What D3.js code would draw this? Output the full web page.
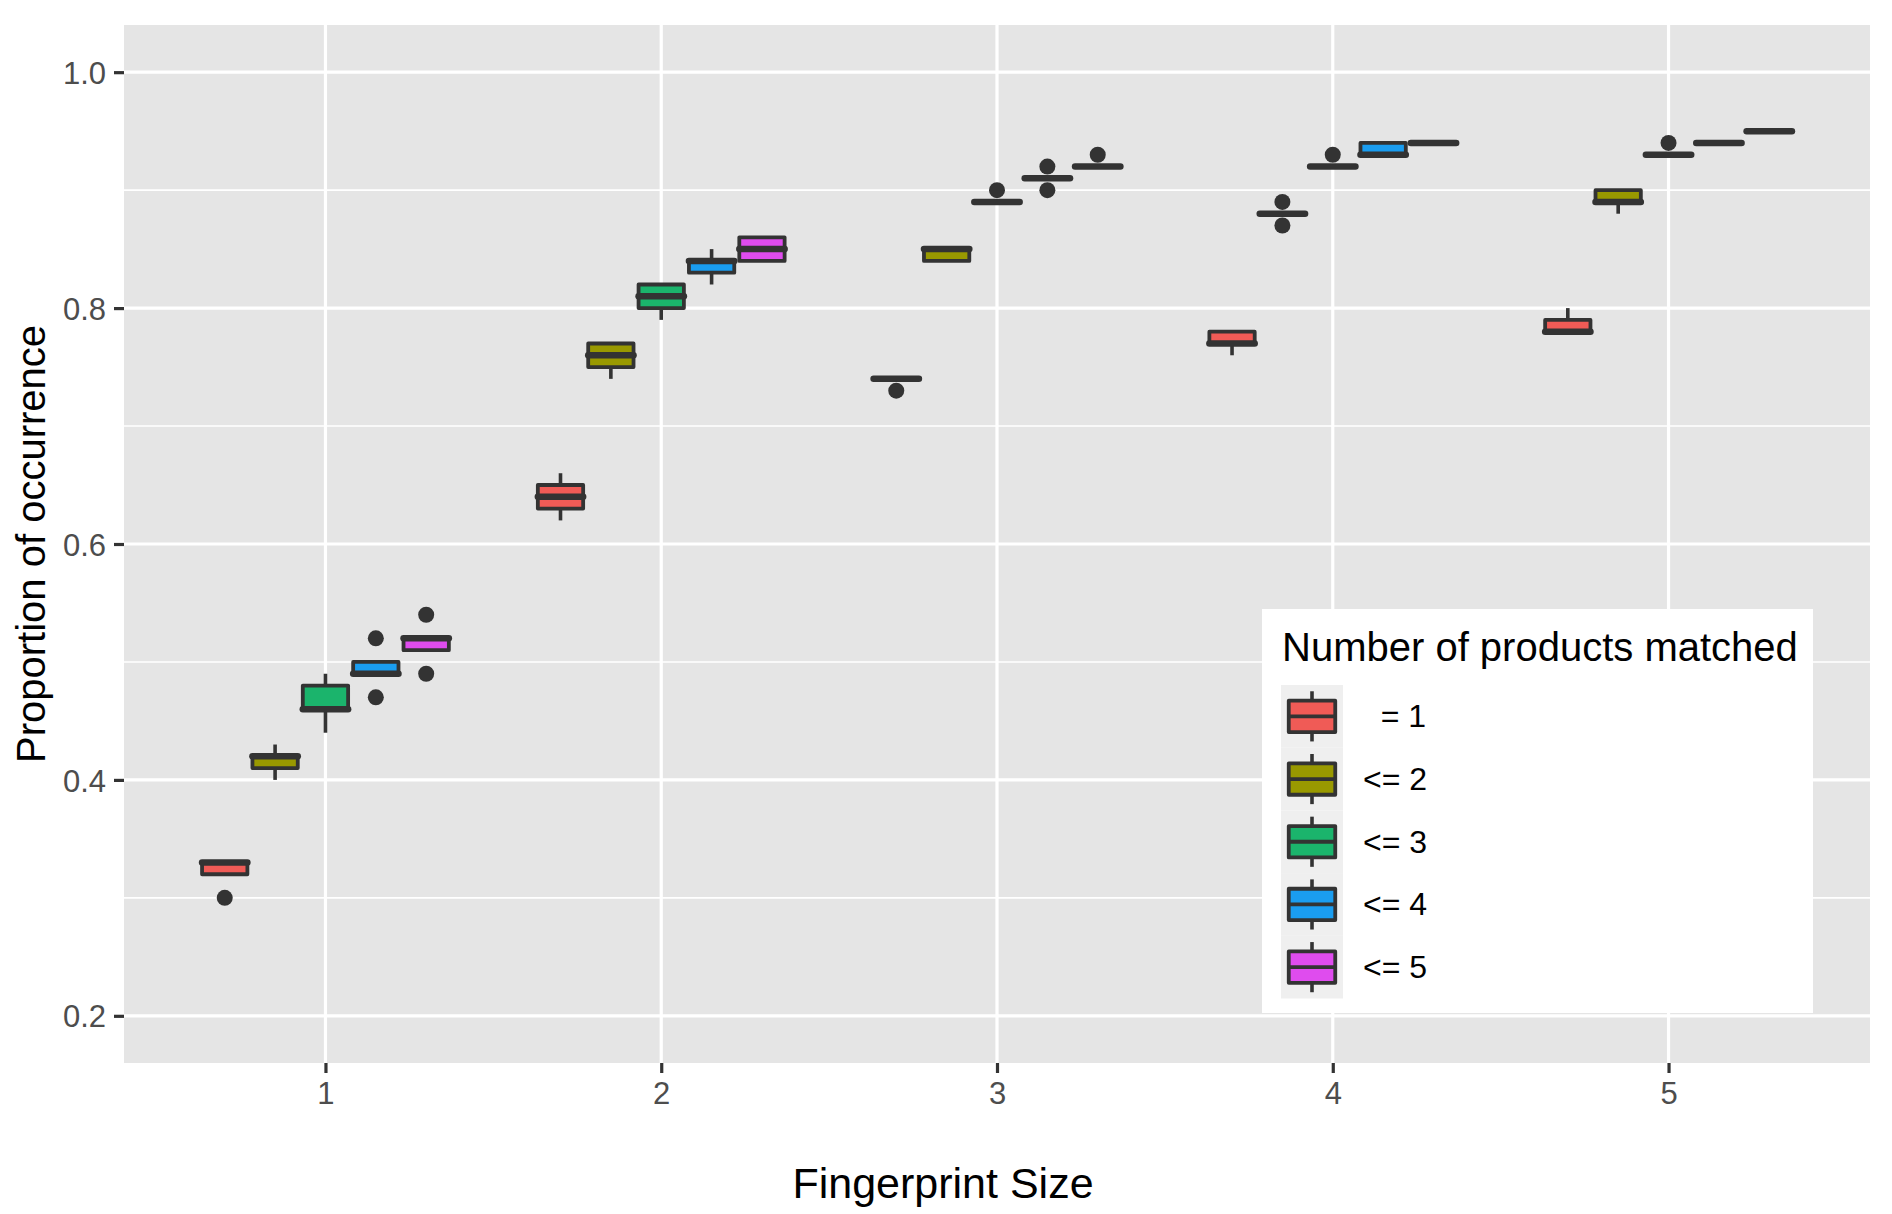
<!DOCTYPE html>
<html>
<head>
<meta charset="utf-8">
<script src="https://cdn.jsdelivr.net/npm/d3@7"></script>
<style>
  body { margin: 0; background: #fff; }
  svg { display: block; font-family: "Liberation Sans", Arial, Helvetica, sans-serif; }
</style>
</head>
<body>
<svg id="chart" width="1892" height="1214"></svg>
<script>
const sizes = [1, 2, 3, 4, 5]
const groups = ["  = 1", "<= 2", "<= 3", "<= 4", "<= 5"]
const groupColors = ["#F05B56", "#999900", "#1BB46C", "#1A9DF0", "#DF4CEE"]
const yTicks = [0.2, 0.4, 0.6, 0.8, 1.0]
const yMinor = [0.3, 0.5, 0.7, 0.9]

// rows = fingerprint size, columns = group
const whiskerLow = [
  [0.32, 0.40, 0.44, 0.49, 0.51],
  [0.62, 0.74, 0.79, 0.82, 0.84],
  [0.74, 0.84, 0.89, 0.91, 0.92],
  [0.76, 0.88, 0.92, 0.93, 0.94],
  [0.78, 0.88, 0.93, 0.94, 0.95]
]
const q1 = [
  [0.32, 0.41, 0.46, 0.49, 0.51],
  [0.63, 0.75, 0.80, 0.83, 0.84],
  [0.74, 0.84, 0.89, 0.91, 0.92],
  [0.77, 0.88, 0.92, 0.93, 0.94],
  [0.78, 0.89, 0.93, 0.94, 0.95]
]
const median = [
  [0.33, 0.42, 0.46, 0.49, 0.52],
  [0.64, 0.76, 0.81, 0.84, 0.85],
  [0.74, 0.85, 0.89, 0.91, 0.92],
  [0.77, 0.88, 0.92, 0.93, 0.94],
  [0.78, 0.89, 0.93, 0.94, 0.95]
]
const q3 = [
  [0.33, 0.42, 0.48, 0.50, 0.52],
  [0.65, 0.77, 0.82, 0.84, 0.86],
  [0.74, 0.85, 0.89, 0.91, 0.92],
  [0.78, 0.88, 0.92, 0.94, 0.94],
  [0.79, 0.90, 0.93, 0.94, 0.95]
]
const whiskerHigh = [
  [0.33, 0.43, 0.49, 0.50, 0.52],
  [0.66, 0.77, 0.82, 0.85, 0.86],
  [0.74, 0.85, 0.89, 0.91, 0.92],
  [0.78, 0.88, 0.92, 0.94, 0.94],
  [0.80, 0.90, 0.93, 0.94, 0.95]
]
const outliers = [
  [[0.30], [], [], [0.47, 0.52], [0.49, 0.54]],
  [[], [], [], [], []],
  [[0.73], [], [0.90], [0.90, 0.92], [0.93]],
  [[], [0.87, 0.89], [0.93], [], []],
  [[], [], [0.94], [], []]
]

const boxes = sizes.flatMap((s, i) => groups.map((g, j) => ({
  size: s, group: g, color: groupColors[j],
  lo: whiskerLow[i][j], q1: q1[i][j], med: median[i][j],
  q3: q3[i][j], hi: whiskerHigh[i][j], out: outliers[i][j]
})))

const svg = d3.select("#chart")
const panel = { left: 124, right: 1870, top: 25, bottom: 1063 }
const ink = "#333333"

const x = d3.scalePoint().domain(sizes).range([panel.left, panel.right]).padding(0.6)
const dodge = d3.scaleBand().domain(groups).range([-0.375 * x.step(), 0.375 * x.step()])
const y = d3.scaleLinear().domain([0.16, 1.04]).range([panel.bottom, panel.top])
const color = d3.scaleOrdinal().domain(groups).range(groupColors)

const boxW = dodge.bandwidth() * 0.9
const cx = d => x(d.size) + dodge(d.group) + dodge.bandwidth() / 2

// panel and grid
svg.append("rect")
  .attr("x", panel.left).attr("y", panel.top)
  .attr("width", panel.right - panel.left).attr("height", panel.bottom - panel.top)
  .attr("fill", "#E5E5E5")

svg.append("g").selectAll("line")
  .data(yMinor).enter().append("line")
  .attr("x1", panel.left).attr("x2", panel.right)
  .attr("y1", d => y(d)).attr("y2", d => y(d))
  .attr("stroke", "#fff").attr("stroke-width", 1.6)

svg.append("g").selectAll("line")
  .data(yTicks).enter().append("line")
  .attr("x1", panel.left).attr("x2", panel.right)
  .attr("y1", d => y(d)).attr("y2", d => y(d))
  .attr("stroke", "#fff").attr("stroke-width", 3.2)

svg.append("g").selectAll("line")
  .data(sizes).enter().append("line")
  .attr("x1", d => x(d)).attr("x2", d => x(d))
  .attr("y1", panel.top).attr("y2", panel.bottom)
  .attr("stroke", "#fff").attr("stroke-width", 3.2)

// axes
const xAxis = svg.append("g")
  .attr("transform", "translate(0," + panel.bottom + ")")
  .call(d3.axisBottom(x).tickSize(10).tickPadding(9))
const yAxis = svg.append("g")
  .attr("transform", "translate(" + panel.left + ",0)")
  .call(d3.axisLeft(y).tickValues(yTicks).tickFormat(d3.format(".1f")).tickSize(10).tickPadding(8))

svg.selectAll(".domain").remove()
svg.selectAll(".tick line").attr("stroke", ink).attr("stroke-width", 3.2)
svg.selectAll(".tick text")
  .attr("fill", "#4D4D4D")
  .style("font-size", "31px")
  .style("font-family", "'Liberation Sans', Arial, sans-serif")
yAxis.selectAll(".tick text").attr("dy", "0.36em")

// boxplots
const boxG = svg.append("g").selectAll("g")
  .data(boxes).enter().append("g")

boxG.selectAll("circle")
  .data(d => d.out.map(v => ({ v: v, d: d }))).enter().append("circle")
  .attr("cx", o => cx(o.d)).attr("cy", o => y(o.v)).attr("r", 8)
  .attr("fill", ink)

boxG.append("line")
  .attr("x1", cx).attr("x2", cx)
  .attr("y1", d => y(d.hi)).attr("y2", d => y(d.q3))
  .attr("stroke", ink).attr("stroke-width", 3.6)
boxG.append("line")
  .attr("x1", cx).attr("x2", cx)
  .attr("y1", d => y(d.q1)).attr("y2", d => y(d.lo))
  .attr("stroke", ink).attr("stroke-width", 3.6)

boxG.append("rect")
  .attr("x", d => cx(d) - boxW / 2).attr("width", boxW)
  .attr("y", d => y(d.q3)).attr("height", d => y(d.q1) - y(d.q3))
  .attr("fill", d => d.color)
  .attr("stroke", ink).attr("stroke-width", 3.8).attr("stroke-linejoin", "round")

boxG.append("line")
  .attr("x1", d => cx(d) - boxW / 2).attr("x2", d => cx(d) + boxW / 2)
  .attr("y1", d => y(d.med)).attr("y2", d => y(d.med))
  .attr("stroke", ink).attr("stroke-width", 6.5).attr("stroke-linecap", "round")

// axis titles
svg.append("text")
  .attr("x", 943).attr("y", 1198)
  .attr("text-anchor", "middle")
  .style("font-size", "43px")
  .text("Fingerprint Size")

svg.append("text")
  .attr("transform", "translate(45," + (panel.top + panel.bottom) / 2 + ") rotate(-90)")
  .attr("text-anchor", "middle")
  .style("font-size", "40px")
  .text("Proportion of occurrence")

// legend
const legend = svg.append("g").attr("transform", "translate(1262,609)")
const keyH = 62.7, keyW = 62, keyX = 19, keyY = 76

legend.append("rect")
  .attr("width", 551).attr("height", 404).attr("fill", "#fff")

legend.append("text")
  .attr("x", 20).attr("y", 52)
  .style("font-size", "40px")
  .text("Number of products matched")

const keys = legend.selectAll("g.key")
  .data(groups).enter().append("g")
  .attr("class", "key")
  .attr("transform", (d, i) => "translate(" + keyX + "," + (keyY + i * keyH) + ")")

keys.append("rect")
  .attr("width", keyW).attr("height", keyH).attr("fill", "#EFEFEF")
keys.append("line")
  .attr("x1", keyW / 2).attr("x2", keyW / 2)
  .attr("y1", keyH * 0.1).attr("y2", keyH * 0.9)
  .attr("stroke", ink).attr("stroke-width", 3.6)
keys.append("rect")
  .attr("x", keyW * 0.125).attr("width", keyW * 0.75)
  .attr("y", keyH * 0.25).attr("height", keyH * 0.5)
  .attr("fill", d => color(d))
  .attr("stroke", ink).attr("stroke-width", 3.8).attr("stroke-linejoin", "round")
keys.append("line")
  .attr("x1", keyW * 0.125).attr("x2", keyW * 0.875)
  .attr("y1", keyH / 2).attr("y2", keyH / 2)
  .attr("stroke", ink).attr("stroke-width", 3.8)
keys.append("text")
  .attr("x", keyW + 20).attr("y", keyH / 2 + 11)
  .attr("xml:space", "preserve")
  .style("white-space", "pre")
  .style("font-size", "32px")
  .text(d => d)
</script>
</body>
</html>
